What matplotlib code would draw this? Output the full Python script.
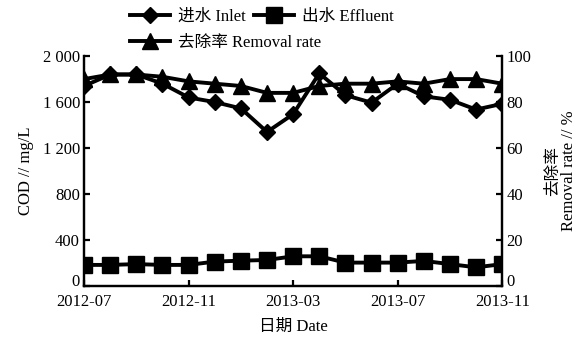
import numpy as np
import matplotlib
matplotlib.use("Agg")
import matplotlib.pyplot as plt

plt.rcParams['font.family'] = ['Liberation Serif', 'Noto Sans CJK SC']
plt.rcParams['axes.unicode_minus'] = False

# monthly sampling, 2012-07 .. 2013-11
months = ['2012-07', '2012-08', '2012-09', '2012-10', '2012-11', '2012-12',
          '2013-01', '2013-02', '2013-03', '2013-04', '2013-05', '2013-06',
          '2013-07', '2013-08', '2013-09', '2013-10', '2013-11']
inlet = [1740, 1840, 1840, 1760, 1640, 1600, 1545, 1340, 1495, 1850,
         1660, 1595, 1760, 1650, 1620, 1535, 1585]
effluent = [183, 183, 190, 183, 183, 212, 220, 226, 258, 258,
            203, 203, 203, 218, 190, 162, 190]
removal = [90, 92, 92, 91, 89, 88, 87, 84, 84, 87,
           88, 88, 89, 88, 90, 90, 88]
tick_months = months[::4]

x = np.arange(len(months))

fig, ax = plt.subplots(figsize=(5.84, 3.38), dpi=100)
fig.subplots_adjust(left=0.144, right=0.860, top=0.834, bottom=0.154)
ax2 = ax.twinx()

lw = 2.8
l1, = ax.plot(x, inlet, color='black', lw=lw, marker='D', ms=8, label='进水 Inlet')
l2, = ax.plot(x, effluent, color='black', lw=lw, marker='s', ms=11, label='出水 Effluent')
l3, = ax2.plot(x, removal, color='black', lw=lw, marker='^', ms=12, label='去除率 Removal rate')

ax.set_xlim(0, len(months) - 1)
ax.set_ylim(0, 2000)
ax2.set_ylim(0, 100)

ax.set_xticks(x[::4])
ax.set_xticklabels(tick_months)
ax.set_yticks(np.arange(0, 2001, 400))
ax.set_yticklabels(['0', '400', '800', '1 200', '1 600', '2 000'])
ax2.set_yticks(np.arange(0, 101, 20))

for a in (ax, ax2):
    a.spines['top'].set_visible(False)
    for s in a.spines.values():
        s.set_linewidth(1.6)
    a.tick_params(direction='in', width=1.6, length=4, labelsize=12, pad=3)
ax.tick_params(axis='x', pad=6)
# sit the bottom value labels on the axis line, clear of the date labels
for lab in (ax.get_yticklabels()[0], ax2.get_yticklabels()[0]):
    lab.set_va('baseline')

ax.set_ylabel('COD // mg/L', fontsize=12, labelpad=6)
ax2.set_ylabel('去除率\nRemoval rate // %', fontsize=12, labelpad=10, rotation=90,
               linespacing=1.0)
ax.set_xlabel('日期 Date', fontsize=12, labelpad=6)

leg_kw = dict(frameon=False, fontsize=12, handlelength=2.4, columnspacing=0.5,
              handletextpad=0.5, borderpad=0, borderaxespad=0)
leg1 = fig.legend([l1, l2], [l1.get_label(), l2.get_label()], ncol=2,
                  loc='center left', bbox_to_anchor=(0.222, 0.95), **leg_kw)
leg2 = fig.legend([l3], [l3.get_label()], loc='center left',
                  bbox_to_anchor=(0.222, 0.873), **leg_kw)

fig.savefig('out.png', dpi=100)
